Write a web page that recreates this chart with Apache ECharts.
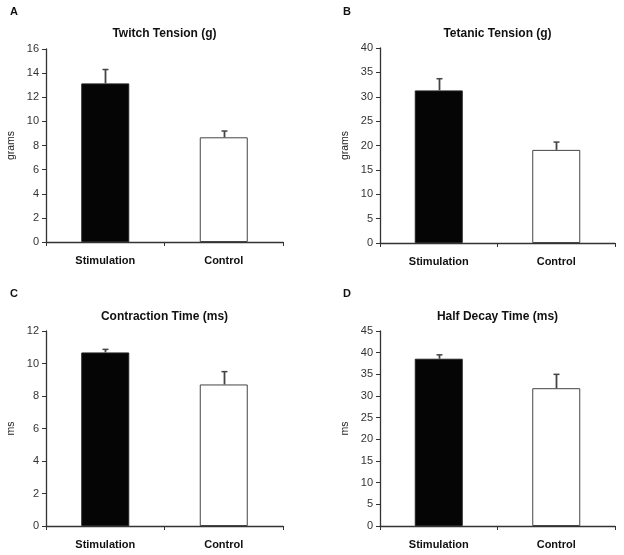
<!DOCTYPE html>
<html>
<head>
<meta charset="utf-8">
<script src="https://cdn.jsdelivr.net/npm/echarts@6/dist/echarts.min.js"></script>
<style>
html,body{margin:0;padding:0;background:#fff;}
#chart{width:624px;height:555px;}
</style>
</head>
<body>
<div id="chart"></div>
<script>
// Data
var categories = ['Stimulation', 'Control'];
var panelLetters = ['A', 'B', 'C', 'D'];
var panelTitles = ['Twitch Tension (g)', 'Tetanic Tension (g)', 'Contraction Time (ms)', 'Half Decay Time (ms)'];
var yNames = ['grams', 'grams', 'ms', 'ms'];
var twitchMeans = [13.15, 8.68];
var twitchErr = [1.15, 0.52];
var tetanicMeans = [31.3, 19.1];
var tetanicErr = [2.4, 1.6];
var contractionMeans = [10.68, 8.71];
var contractionErr = [0.19, 0.79];
var halfDecayMeans = [38.6, 31.8];
var halfDecayErr = [0.9, 3.2];
var yMax = [16, 40, 12, 45];
var yInterval = [2, 5, 2, 5];

var means = [twitchMeans, tetanicMeans, contractionMeans, halfDecayMeans];
var errs = [twitchErr, tetanicErr, contractionErr, halfDecayErr];

var grids = [
  {left: 46, top: 49, width: 237, height: 193},
  {left: 380, top: 48, width: 235, height: 195},
  {left: 46, top: 331, width: 237, height: 195},
  {left: 380, top: 331, width: 235, height: 195}
];
var letterPos = [[10, 12], [343, 12], [10, 294], [343, 294]];
var titleY = [34, 34, 317, 317];

var FONT = '"Liberation Sans", Arial, sans-serif';
var axisColor = '#333';

var option = {
  backgroundColor: '#fff',
  animation: false,
  grid: grids.map(function (g) { return Object.assign({containLabel: false}, g); }),
  xAxis: grids.map(function (g, i) {
    return {
      type: 'category', gridIndex: i, data: categories,
      axisLine: {lineStyle: {color: axisColor, width: 1.3}},
      axisTick: {show: true, length: 4, lineStyle: {color: axisColor}},
      axisLabel: {color: '#111', fontFamily: FONT, fontWeight: 'bold', fontSize: 11, margin: 13}
    };
  }),
  yAxis: grids.map(function (g, i) {
    return {
      type: 'value', gridIndex: i, min: 0, max: yMax[i], interval: yInterval[i],
      name: yNames[i], nameLocation: 'middle', nameGap: 29, nameRotate: 90,
      nameTextStyle: {color: '#222', fontFamily: FONT, fontSize: 10.5},
      axisLine: {show: true, lineStyle: {color: axisColor, width: 1.3}},
      axisTick: {show: true, length: 4, lineStyle: {color: axisColor}},
      axisLabel: {color: '#333', fontFamily: FONT, fontSize: 11, margin: 7},
      splitLine: {show: false}
    };
  }),
  series: [],
  graphic: []
};

for (var i = 0; i < 4; i++) {
  option.series.push({
    type: 'bar', xAxisIndex: i, yAxisIndex: i, barWidth: 48,
    data: means[i].map(function (v, j) {
      return {
        value: v,
        itemStyle: j === 0
          ? {color: '#050505', borderColor: '#222', borderWidth: 1}
          : {color: '#fff', borderColor: '#444', borderWidth: 1}
      };
    }),
    z: 2
  });
  option.series.push({
    type: 'custom', xAxisIndex: i, yAxisIndex: i, z: 3,
    data: means[i].map(function (v, j) { return [j, v, v + errs[i][j]]; }),
    renderItem: function (params, api) {
      var base = api.coord([api.value(0), api.value(1)]);
      var top = api.coord([api.value(0), api.value(2)]);
      var x = Math.round(base[0]) + 0.5;
      return {
        type: 'group',
        children: [
          {type: 'line', shape: {x1: x, y1: base[1], x2: x, y2: top[1]}, style: {stroke: '#444', lineWidth: 1.8}},
          {type: 'line', shape: {x1: x - 3, y1: top[1], x2: x + 3, y2: top[1]}, style: {stroke: '#444', lineWidth: 1.5}}
        ]
      };
    }
  });
  option.graphic.push({
    type: 'text', left: letterPos[i][0], top: letterPos[i][1] - 6,
    style: {text: panelLetters[i], font: 'bold 11px ' + FONT, fill: '#111'}
  });
  option.graphic.push({
    type: 'text', x: grids[i].left + grids[i].width / 2, y: titleY[i],
    style: {text: panelTitles[i], font: 'bold 12px ' + FONT, fill: '#111', textAlign: 'center', textVerticalAlign: 'middle'}
  });
}

var chart = echarts.init(document.getElementById('chart'), null, {renderer: 'canvas'});
chart.setOption(option);
</script>
</body>
</html>
